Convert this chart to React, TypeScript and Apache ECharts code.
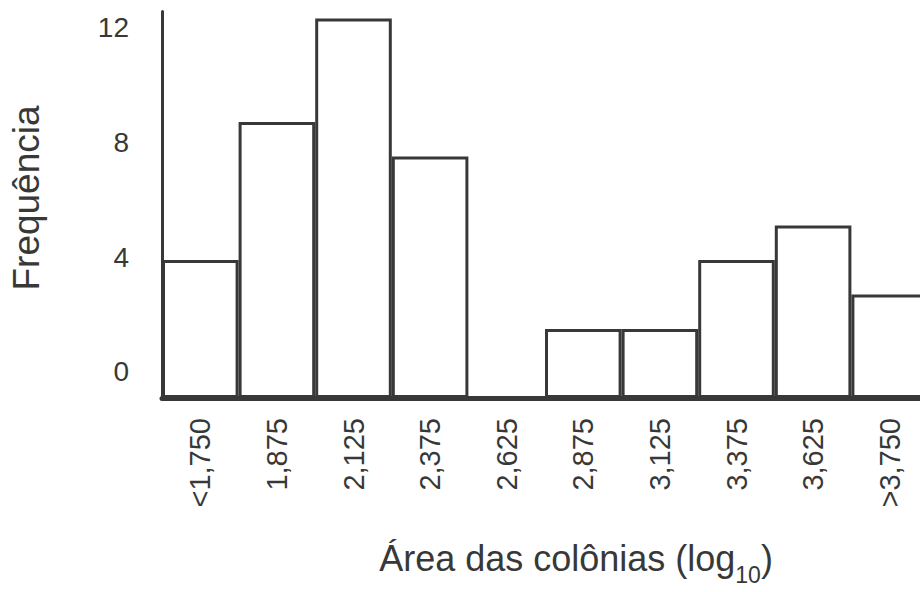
import React, { useEffect, useRef } from "react";
import * as echarts from "echarts";

const categories = ["<1,750", "1,875", "2,125", "2,375", "2,625", "2,875", "3,125", "3,375", "3,625", ">3,750"];
const frequencies = [4, 8, 11, 7, 0, 2, 2, 4, 5, 3];
const yTickValues = [0, 4, 8, 12];
const yName = "Frequência";
const xNameMain = "Área das colônias (log";
const xNameSub = "10";

const INK = "#383838";
const FONT = "'Liberation Sans', Arial, sans-serif";

export default function App() {
  const ref = useRef<HTMLDivElement>(null);
  useEffect(() => {
    if (!ref.current) return;
    const chart = echarts.init(ref.current, undefined, { renderer: "svg" });
    chart.setOption({
      animation: false,
      backgroundColor: "#ffffff",
      textStyle: { fontFamily: FONT, color: INK },
      grid: { left: 162, top: 11.6, bottom: 194, width: 766 },
      xAxis: {
        type: "category",
        data: categories,
        boundaryGap: true,
        axisLine: { show: true, onZero: false, lineStyle: { color: INK, width: 5 } },
        axisTick: { show: false },
        axisLabel: { rotate: 90, margin: 20, fontSize: 29, color: INK, fontFamily: FONT, interval: 0 },
        splitLine: { show: false },
      },
      yAxis: [
        {
          type: "value",
          min: 0,
          max: 11.2,
          axisLine: { show: true, lineStyle: { color: INK, width: 3 } },
          axisTick: { show: false },
          axisLabel: { show: false },
          splitLine: { show: false },
        },
        {
          type: "value",
          position: "left",
          min: -0.907,
          max: 12.57,
          axisLine: { show: false },
          axisTick: { show: false },
          splitLine: { show: false },
          axisLabel: {
            show: true,
            customValues: yTickValues,
            margin: 33,
            fontSize: 28,
            color: INK,
            fontFamily: FONT,
          },
        },
      ],
      series: [
        {
          type: "bar",
          data: frequencies,
          yAxisIndex: 0,
          barCategoryGap: 0,
          barGap: 0,
          itemStyle: { color: "#ffffff", borderColor: INK, borderWidth: 3 },
        },
      ],
      graphic: [
        {
          type: "text",
          x: 26,
          y: 198,
          rotation: Math.PI / 2,
          style: {
            text: yName,
            fontSize: 37,
            fontFamily: FONT,
            fill: INK,
            align: "center",
            verticalAlign: "middle",
          },
        },
        {
          type: "text",
          x: 576,
          y: 558,
          style: {
            text: "{a|" + xNameMain + "}{s|" + xNameSub + "}{a|)}",
            fontFamily: FONT,
            fill: INK,
            align: "center",
            verticalAlign: "middle",
            rich: {
              a: { fontSize: 36, fontFamily: FONT, fill: INK, color: INK, verticalAlign: "bottom" },
              s: { fontSize: 23, fontFamily: FONT, fill: INK, color: INK, verticalAlign: "bottom", padding: [0, 0, -10, 0] },
            },
          },
        },
      ],
    });
    return () => chart.dispose();
  }, []);
  return (
    <div style={{ position: "fixed", left: 0, top: 0, width: 920, height: 592, overflow: "hidden", background: "#fff" }}>
      <div ref={ref} style={{ width: 940, height: 592 }} />
    </div>
  );
}
